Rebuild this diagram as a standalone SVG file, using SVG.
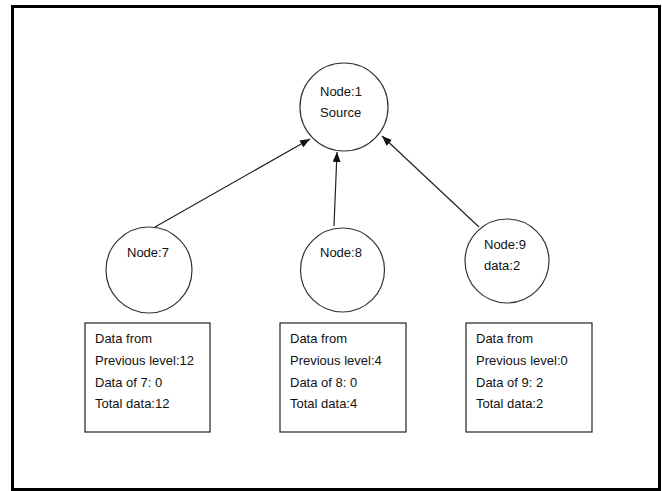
<svg xmlns="http://www.w3.org/2000/svg" width="662" height="491" viewBox="0 0 662 491">
<style>
.node{fill:#fff;stroke:#333;stroke-width:1.2}
.box{fill:#fff;stroke:#222;stroke-width:1.2}
.t{font-family:"Liberation Sans",Arial,sans-serif;font-size:13px;fill:#111}
.edge{stroke:#222;stroke-width:1.2;fill:none;marker-end:url(#ah)}
</style>
<defs>
<marker id="ah" markerWidth="10" markerHeight="8" refX="10" refY="4" orient="auto" markerUnits="userSpaceOnUse">
<path d="M0,0 L10,4 L0,8 Z" fill="#111"/>
</marker>
</defs>
<rect x="0" y="0" width="662" height="491" fill="#fff"/>
<rect x="12.5" y="6.5" width="647" height="483" fill="none" stroke="#000" stroke-width="3"/>
<g id="connectors">
<line class="edge" x1="155" y1="227" x2="310" y2="139"/>
<line class="edge" x1="334" y1="226" x2="337" y2="152"/>
<line class="edge" x1="479" y1="227" x2="382" y2="136"/>
</g>
<g id="node1">
<circle class="node" cx="344" cy="107" r="44"/>
<text class="t" x="320" y="96">Node:1</text>
<text class="t" x="320" y="117">Source</text>
</g>
<g id="node7">
<circle class="node" cx="149" cy="270" r="43"/>
<text class="t" x="127" y="257">Node:7</text>
</g>
<g id="node8">
<circle class="node" cx="342.5" cy="270" r="42"/>
<text class="t" x="320" y="257">Node:8</text>
</g>
<g id="node9">
<circle class="node" cx="507" cy="261" r="42"/>
<text class="t" x="484" y="249">Node:9</text>
<text class="t" x="484" y="270">data:2</text>
</g>
<g id="box7">
<rect class="box" x="85" y="323" width="125" height="109"/>
<text class="t" x="95" y="343">Data from</text>
<text class="t" x="95" y="365">Previous level:12</text>
<text class="t" x="95" y="387">Data of 7: 0</text>
<text class="t" x="95" y="408">Total data:12</text>
</g>
<g id="box8">
<rect class="box" x="280" y="323" width="126" height="109"/>
<text class="t" x="290" y="343">Data from</text>
<text class="t" x="290" y="365">Previous level:4</text>
<text class="t" x="290" y="387">Data of 8: 0</text>
<text class="t" x="290" y="408">Total data:4</text>
</g>
<g id="box9">
<rect class="box" x="466" y="323" width="126" height="109"/>
<text class="t" x="476" y="343">Data from</text>
<text class="t" x="476" y="365">Previous level:0</text>
<text class="t" x="476" y="387">Data of 9: 2</text>
<text class="t" x="476" y="408">Total data:2</text>
</g>
</svg>
